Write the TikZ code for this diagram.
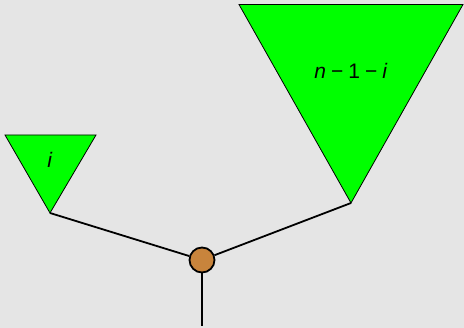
\documentclass[tikz,border=0pt]{standalone}
\usepackage{fontspec}
\setmainfont{Liberation Sans}
\definecolor{bggray}{RGB}{229,229,229}
\definecolor{rootbrown}{RGB}{200,132,60}
\begin{document}
\begin{tikzpicture}[x=1pt,y=-1pt,
  tri/.style={fill=green, draw=black, line width=0.8pt, line join=miter},
  edge/.style={draw=black, line width=1.8pt},
  root/.style={circle, fill=rootbrown, draw=black, line width=1.8pt, minimum size=25pt, inner sep=0pt},
  lbl/.style={font=\fontsize{21}{24}\selectfont}]
\fill[bggray] (0,0) rectangle (464,328);
\useasboundingbox (0,0) rectangle (464,328);
% triangles
\draw[tri] (5,135) -- (96,135) -- (50,213) -- cycle;
\draw[tri] (239,4.5) -- (463,4.5) -- (351,203) -- cycle;
\coordinate (la) at (50,213);
\coordinate (ra) at (351,203);
\coordinate (bot) at (202,326);
\node[root] (r) at (202,260) {};
\draw[edge] (la) -- (r);
\draw[edge] (ra) -- (r);
\draw[edge] (r) -- (bot);
\node[lbl] (li) at (50,160) {\textit{i}};
\node[lbl] (ln) at (351,71) {\textit{n}\hspace{5pt}−\hspace{5pt}1\hspace{5pt}−\hspace{5pt}\textit{i}};
\end{tikzpicture}
\end{document}
